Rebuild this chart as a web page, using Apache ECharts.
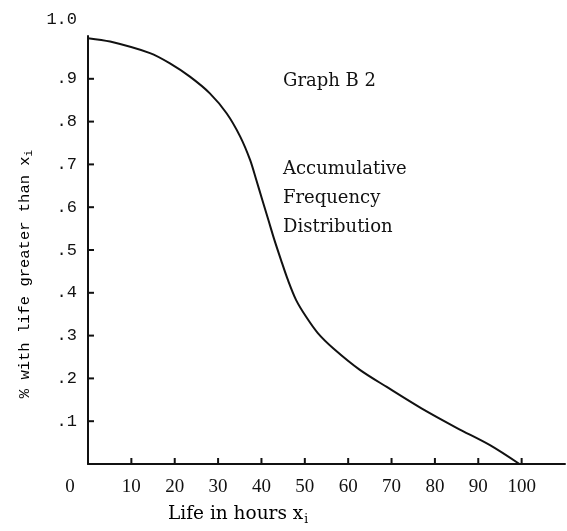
<!DOCTYPE html>
<html>
<head>
<meta charset="utf-8">
<script src="https://cdn.jsdelivr.net/npm/echarts@6/dist/echarts.min.js"></script>
<style>
  html, body { margin: 0; padding: 0; background: #fff; }
  #chart { width: 567px; height: 531px; }
</style>
</head>
<body>
<div id="chart"></div>
<script>
// Life in hours (x) and share of items still working beyond that life (y)
const lifeHours = [0, 5.1, 14.3, 18.9, 23.5, 28.1, 32.0, 35.1, 37.4, 38.8, 40.2, 41.6, 43.0, 44.5, 46.1, 48.0, 50.3, 53.0, 56.6, 62.7, 68.9, 76.9, 85.1, 92.7, 99.5];
const shareAbove = [0.995, 0.987, 0.960, 0.936, 0.905, 0.866, 0.819, 0.765, 0.710, 0.664, 0.617, 0.570, 0.523, 0.477, 0.430, 0.383, 0.344, 0.306, 0.270, 0.220, 0.180, 0.130, 0.084, 0.044, 0.0];

const xTicks = [10, 20, 30, 40, 50, 60, 70, 80, 90, 100];
const xLabels = [0, 10, 20, 30, 40, 50, 60, 70, 80, 90, 100];
const yTicks = [0.1, 0.2, 0.3, 0.4, 0.5, 0.6, 0.7, 0.8, 0.9];

const points = lifeHours.map((x, i) => [x, shareAbove[i]]);

const serif = '"DejaVu Serif", serif';
const mono = '"Liberation Mono", "DejaVu Sans Mono", monospace';
const ink = '#111';
const tickLen = 6;

const chart = echarts.init(document.getElementById('chart'), null, { renderer: 'canvas' });

// Short inward tick marks, placed through the axis scales
function tickSeries(values, dim) {
  return {
    type: 'custom',
    silent: true,
    clip: false,
    data: values.map(v => dim === 'x' ? [v, 0] : [0, v]),
    renderItem: (params, api) => {
      const p = api.coord([api.value(0), api.value(1)]);
      const shape = dim === 'x'
        ? { x1: p[0], y1: p[1], x2: p[0], y2: p[1] - tickLen }
        : { x1: p[0], y1: p[1], x2: p[0] + tickLen, y2: p[1] };
      return { type: 'line', shape: shape, style: { stroke: ink, lineWidth: 2 } };
    },
    z: 4
  };
}

chart.setOption({
  backgroundColor: '#fff',
  animation: false,
  grid: { left: 88, top: 36, right: 2, bottom: 67, containLabel: false },
  xAxis: {
    type: 'value',
    min: 0,
    max: 110,
    interval: 10,
    axisLine: { show: true, onZero: false, lineStyle: { color: ink, width: 2 } },
    axisTick: { show: false },
    splitLine: { show: false },
    axisLabel: {
      customValues: xLabels,
      margin: 14,
      color: ink,
      fontFamily: '"Liberation Serif", serif',
      fontSize: 19,
      formatter: v => v === 0 ? '{z|0}' : String(Math.round(v)),
      rich: { z: { fontFamily: '"Liberation Serif", serif', fontSize: 19, color: ink, padding: [0, 36, 0, 0] } }
    }
  },
  yAxis: {
    type: 'value',
    min: 0,
    max: 1,
    interval: 0.1,
    axisLine: { show: true, onZero: false, lineStyle: { color: ink, width: 2 } },
    axisTick: { show: false },
    splitLine: { show: false },
    axisLabel: {
      margin: 11,
      color: ink,
      fontFamily: mono,
      fontSize: 17,
      formatter: v => {
        const d = Math.round(v * 10);
        if (d === 0) return '';
        return d === 10 ? '{hi|1.0}' : '.' + d;
      },
      rich: { hi: { fontFamily: mono, fontSize: 17, color: ink, padding: [0, 0, 34, 0] } }
    }
  },
  series: [
    {
      type: 'line',
      data: points,
      smooth: 0.3,
      showSymbol: false,
      lineStyle: { color: ink, width: 2 },
      z: 3
    },
    tickSeries(xTicks, 'x'),
    tickSeries(yTicks, 'y')
  ],
  graphic: [
    {
      type: 'text', left: 283, top: 72,
      style: { text: 'Graph B 2', font: '18px ' + serif, fill: ink }
    },
    {
      type: 'text', left: 283, top: 155,
      style: { text: 'Accumulative\nFrequency\nDistribution', font: '18px ' + serif, lineHeight: 29, fill: ink }
    },
    {
      type: 'text', left: 168, top: 505,
      style: {
        text: '{t|Life in hours x}{s|i}',
        rich: {
          t: { fontFamily: serif, fontSize: 18.5, color: ink },
          s: { fontFamily: serif, fontSize: 12, color: ink, padding: [10, 0, 0, 1] }
        }
      }
    },
    {
      type: 'text', x: 25, y: 274, rotation: Math.PI / 2,
      style: {
        text: '{t|% with life greater than x}{s|i}',
        align: 'center', verticalAlign: 'middle',
        rich: {
          t: { fontFamily: mono, fontSize: 15.5, color: ink },
          s: { fontFamily: mono, fontSize: 11, color: ink, padding: [9, 0, 0, 0] }
        }
      }
    }
  ]
});
</script>
</body>
</html>
